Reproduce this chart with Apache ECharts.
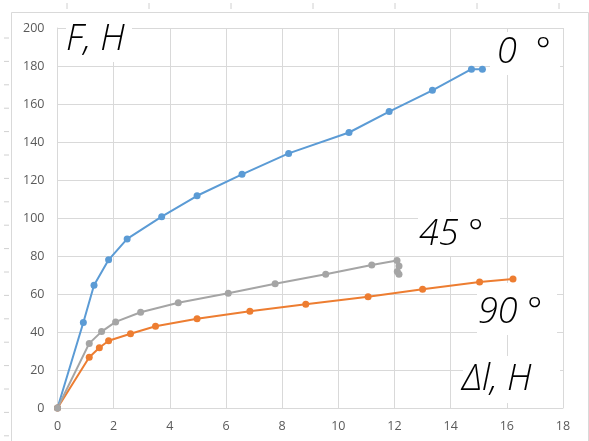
<!DOCTYPE html>
<html><head><meta charset="utf-8">
<script src="https://cdn.jsdelivr.net/npm/echarts@6/dist/echarts.min.js"></script>
<style>html,body{margin:0;padding:0;background:#fff}#c{width:589px;height:441px}</style>
</head><body><div id="c"></div>
<script>
// 0° series (blue)
const deg0 = [[0,0],[0.92,45],[1.3,64.6],[1.82,78],[2.48,89],[3.71,100.7],[4.97,111.7],[6.57,123],[8.23,134],[10.38,145],[11.81,156],[13.35,167.2],[14.74,178.3],[15.13,178.3]];
// 90° series (orange)
const deg90 = [[0,0],[1.13,26.7],[1.49,31.7],[1.82,35.4],[2.6,39.1],[3.49,43],[4.97,47],[6.85,50.9],[8.84,54.6],[11.06,58.6],[13.0,62.5],[15.03,66.3],[16.22,67.9]];
// 45° series (gray)
const deg45 = [[0,0],[1.13,34],[1.57,40.2],[2.07,45.3],[2.96,50.4],[4.3,55.4],[6.08,60.4],[7.75,65.4],[9.55,70.4],[11.19,75.3],[12.09,77.6],[12.16,74.8],[12.1,71.8],[12.16,70.4]];
const xTicks = {min:0, max:18, interval:2};
const yTicks = {min:0, max:200, interval:20};

const labelFont = "'Open Sans', 'DejaVu Sans', sans-serif";
const annFont = "'Open Sans', 'DejaVu Sans', sans-serif";

const chart = echarts.init(document.getElementById('c'), null, {renderer:'canvas'});

function box(x,y,w,h){return {type:'rect',z:1,shape:{x:x,y:y,width:w,height:h},style:{fill:'#fff'}};}
function txt(x,y,t){return {type:'text',z:3,x:x,y:y,style:{text:t,font:'italic 300 36px '+annFont,fill:'#000',textVerticalAlign:'top'}};}

const deco = [];
// outer chart border
deco.push({type:'polyline',z:0,shape:{points:[[11.5,441],[11.5,12.5],[588.5,12.5],[588.5,441]]},style:{stroke:'#d9d9d9',lineWidth:1,fill:null}});
// ruler marks
for(let i=0;i<7;i++){const x=67+i*82;deco.push({type:'line',z:0,shape:{x1:x,y1:3,x2:x,y2:9},style:{stroke:'#d0d0d0',lineWidth:1}});}
for(let i=0;i<18;i++){const y=38+i*23.4;deco.push({type:'line',z:0,shape:{x1:4,y1:y,x2:9,y2:y},style:{stroke:'#d0d0d0',lineWidth:1}});}

chart.setOption({
  animation:false,
  backgroundColor:'#fff',
  grid:{left:57.5,right:26,top:28,bottom:33,containLabel:false},
  xAxis:{type:'value',min:xTicks.min,max:xTicks.max,interval:xTicks.interval,
    axisLine:{show:true,lineStyle:{color:'#d9d9d9',width:1}},axisTick:{show:false},
    splitLine:{show:true,lineStyle:{color:'#d9d9d9',width:1}},
    axisLabel:{color:'#5a5a5a',fontSize:12.5,fontFamily:labelFont,margin:12}},
  yAxis:{type:'value',min:yTicks.min,max:yTicks.max,interval:yTicks.interval,
    axisLine:{show:true,lineStyle:{color:'#d9d9d9',width:1}},axisTick:{show:false},
    splitLine:{show:true,lineStyle:{color:'#d9d9d9',width:1}},
    axisLabel:{color:'#5a5a5a',fontSize:12.5,fontFamily:labelFont,margin:13}},
  series:[
    {name:'0°',type:'line',data:deg0,symbol:'circle',symbolSize:7,color:'#5b9bd5',lineStyle:{width:2,color:'#5b9bd5'},itemStyle:{color:'#5b9bd5'},z:2},
    {name:'90°',type:'line',data:deg90,symbol:'circle',symbolSize:7,color:'#ed7d31',lineStyle:{width:2,color:'#ed7d31'},itemStyle:{color:'#ed7d31'},z:2},
    {name:'45°',type:'line',data:deg45,symbol:'circle',symbolSize:7,color:'#a5a5a5',lineStyle:{width:2,color:'#a5a5a5'},itemStyle:{color:'#a5a5a5'},z:2}
  ],
  graphic:{elements: deco.concat([
    box(66,22,66,40), txt(66,22,'F, Н'),
    box(490,32,70,43), txt(497,35,'0  °'),
    box(418,212,82,44), txt(419,217,'45 °'),
    box(477,283,80,52), txt(478,295,'90 °'),
    box(463,356,97,47), txt(462,362,'Δl, Н')
  ])}
});
</script></body></html>
